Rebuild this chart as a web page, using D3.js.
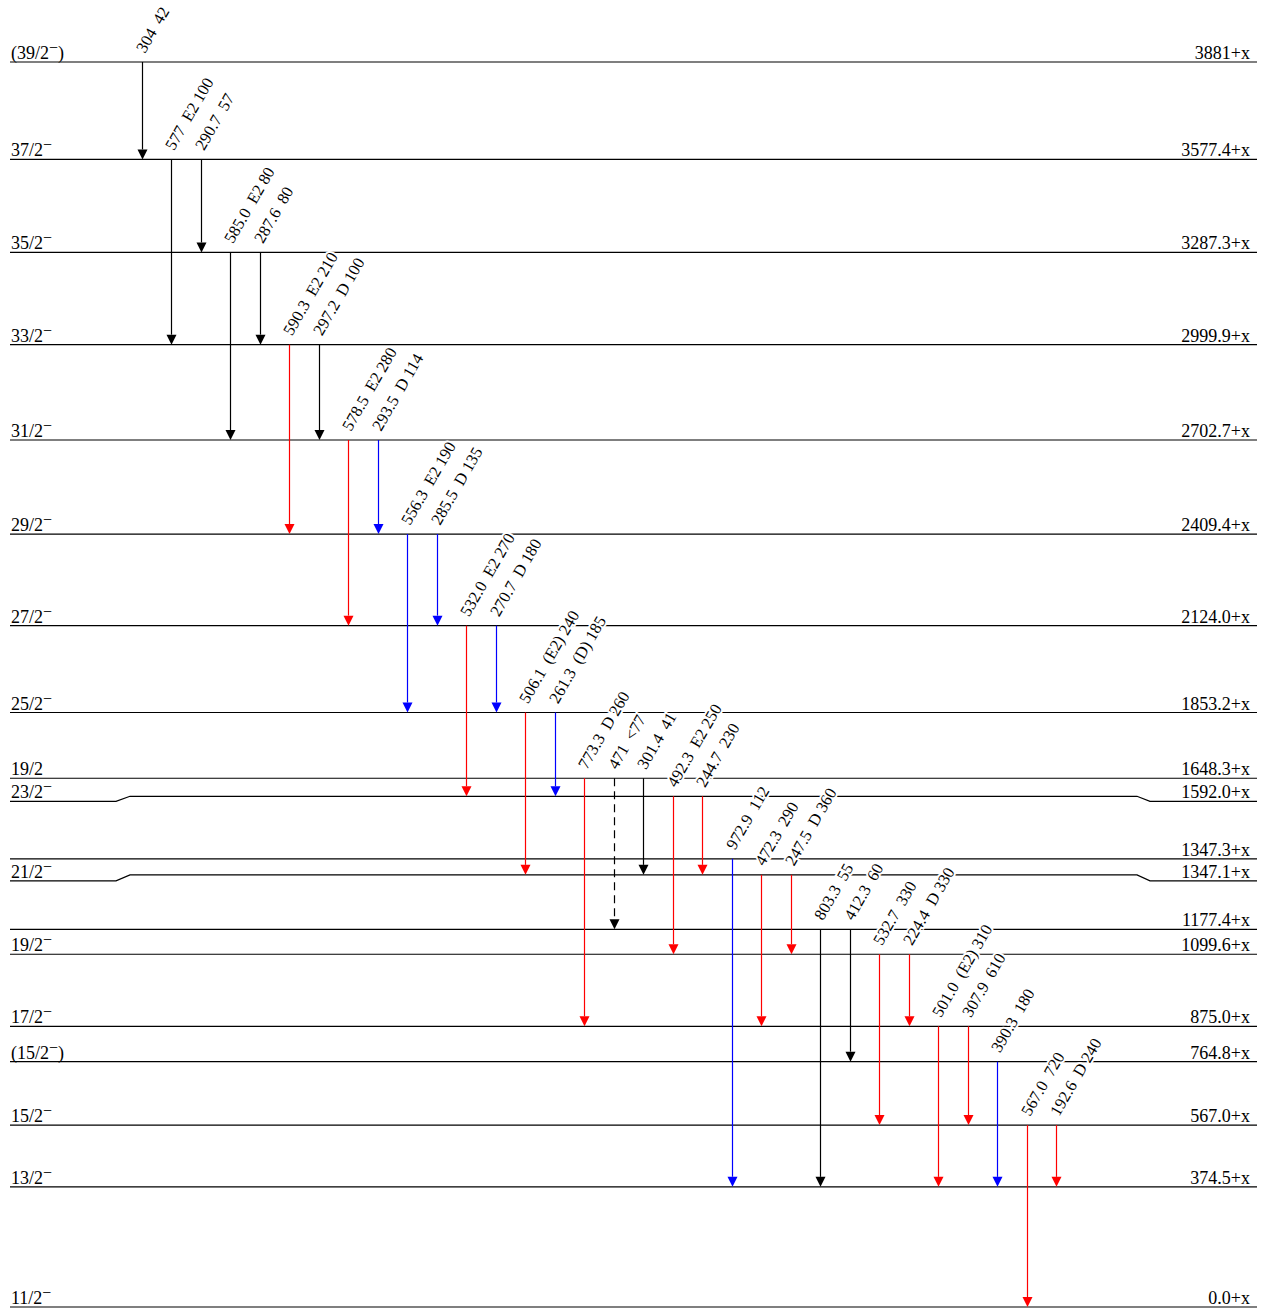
<!DOCTYPE html>
<html>
<head>
<meta charset="utf-8">
<script src="https://cdn.jsdelivr.net/npm/d3@7"></script>
<style>
  html, body { margin: 0; padding: 0; background: #fff; }
  svg { display: block; font-family: "Liberation Serif", "Times New Roman", serif; }
  .gamma { white-space: pre; }
</style>
</head>
<body>
<div id="chart"></div>
<script>
// level scheme: levels and gamma transitions

const levelEnergies = [0.0, 374.5, 567.0, 764.8, 875.0, 1099.6, 1177.4, 1347.1, 1347.3,
  1592.0, 1648.3, 1853.2, 2124.0, 2409.4, 2702.7, 2999.9, 3287.3, 3577.4, 3881];
const levelSpins = ['11/2', '13/2', '15/2', '(15/2', '17/2', '19/2', '', '21/2', '',
  '23/2', '19/2', '25/2', '27/2', '29/2', '31/2', '33/2', '35/2', '37/2', '(39/2'];
const levelParity = ['−', '−', '−', '−)', '−', '−', '', '−', '',
  '−', '', '−', '−', '−', '−', '−', '−', '−', '−)'];
const levelLabels = ['0.0+x', '374.5+x', '567.0+x', '764.8+x', '875.0+x', '1099.6+x', '1177.4+x',
  '1347.1+x', '1347.3+x', '1592.0+x', '1648.3+x', '1853.2+x', '2124.0+x', '2409.4+x',
  '2702.7+x', '2999.9+x', '3287.3+x', '3577.4+x', '3881+x'];

const gammaLabels = ['304  42', '577  E2 100', '290.7  57', '585.0  E2 80', '287.6  80',
  '590.3  E2 210', '297.2  D 100', '578.5  E2 280', '293.5  D 114', '556.3  E2 190', '285.5  D 135',
  '532.0  E2 270', '270.7  D 180', '506.1  (E2) 240', '261.3  (D) 185', '773.3  D 260', '471  <77',
  '301.4  41', '492.3  E2 250', '244.7  230', '972.9  112', '472.3  290', '247.5  D 360',
  '803.3  55', '412.3  60', '532.7  330', '224.4  D 330', '501.0  (E2) 310', '307.9  610',
  '390.3  180', '567.0  720', '192.6  D 240'];
const gammaFrom = [3881, 3577.4, 3577.4, 3287.3, 3287.3, 2999.9, 2999.9, 2702.7, 2702.7,
  2409.4, 2409.4, 2124.0, 2124.0, 1853.2, 1853.2, 1648.3, 1648.3, 1648.3, 1592.0, 1592.0,
  1347.3, 1347.1, 1347.1, 1177.4, 1177.4, 1099.6, 1099.6, 875.0, 875.0, 764.8, 567.0, 567.0];
const gammaTo = [3577.4, 2999.9, 3287.3, 2702.7, 2999.9, 2409.4, 2702.7, 2124.0, 2409.4,
  1853.2, 2124.0, 1592.0, 1853.2, 1347.1, 1592.0, 875.0, 1177.4, 1347.1, 1099.6, 1347.1,
  374.5, 875.0, 1099.6, 374.5, 764.8, 567.0, 875.0, 374.5, 567.0, 374.5, 0.0, 374.5];
const gammaBand = ['other', 'other', 'other', 'other', 'other', 'A', 'other', 'A', 'B',
  'B', 'B', 'A', 'B', 'A', 'B', 'A', 'other', 'other', 'A', 'A',
  'B', 'A', 'A', 'other', 'other', 'A', 'A', 'A', 'A', 'B', 'A', 'A'];
const gammaTentative = d3.range(gammaLabels.length).map(i => gammaLabels[i].startsWith('471'));

// display tweaks for the two close-lying 1347 levels and kinked lines
const levelShift = { 1347.3: -16 };
const edgeDrop = { 1592.0: 5, 1347.1: 6 };

const W = 1267, H = 1309;
const svg = d3.select('#chart').append('svg').attr('width', W).attr('height', H);

const y = d3.scaleLinear().domain([0, 3881]).range([1307, 62]);
const x = d3.scalePoint().domain(d3.range(gammaLabels.length)).range([142, 1056.5]);
const color = d3.scaleOrdinal().domain(['A', 'B', 'other']).range(['#ff0000', '#0000ff', '#000000']);

const levelY = e => y(e) + (levelShift[e] || 0);
const x0 = 10, x1 = 1257;

const levels = levelEnergies.map((e, i) => ({
  e, spin: levelSpins[i], par: levelParity[i], label: levelLabels[i],
  y: levelY(e), drop: edgeDrop[e] || 0
}));

const gLev = svg.append('g');
gLev.selectAll('path.level')
  .data(levels)
  .join('path')
  .attr('class', 'level')
  .attr('fill', 'none')
  .attr('stroke', '#000')
  .attr('stroke-width', 1.2)
  .attr('d', d => {
    if (!d.drop) return `M${x0},${d.y}H${x1}`;
    const ye = d.y + d.drop;
    return `M${x0},${ye}H116L130,${d.y}H1137L1150,${ye}H${x1}`;
  });

const spinText = gLev.selectAll('text.spin')
  .data(levels.filter(d => d.spin))
  .join('text')
  .attr('class', 'spin')
  .attr('x', 11)
  .attr('y', d => d.y + d.drop - 3)
  .attr('font-size', 18);
spinText.append('tspan').text(d => d.spin);
spinText.filter(d => d.par).each(function (d) {
  const t = d3.select(this);
  t.append('tspan').attr('dy', -6).attr('font-size', 16).text('−');
  if (d.par.length > 1) t.append('tspan').attr('dy', 6).text(')');
});

gLev.selectAll('text.energy')
  .data(levels)
  .join('text')
  .attr('class', 'energy')
  .attr('x', 1250)
  .attr('y', d => d.y + d.drop - 3)
  .attr('text-anchor', 'end')
  .attr('font-size', 18)
  .text(d => d.label);

const gammas = gammaLabels.map((lab, i) => ({
  lab, band: gammaBand[i], dashed: gammaTentative[i],
  x: Math.floor(x(i)) + 0.5, y1: levelY(gammaFrom[i]), y2: levelY(gammaTo[i])
}));

const head = 10;
const gG = svg.append('g');
gG.selectAll('line.gline')
  .data(gammas)
  .join('line')
  .attr('class', 'gline')
  .attr('x1', d => d.x).attr('x2', d => d.x)
  .attr('y1', d => d.y1).attr('y2', d => d.y2 - head)
  .attr('stroke', d => color(d.band))
  .attr('stroke-width', 1.2)
  .attr('stroke-dasharray', d => d.dashed ? '8,5' : null);

gG.selectAll('path.ghead')
  .data(gammas)
  .join('path')
  .attr('class', 'ghead')
  .attr('fill', d => color(d.band))
  .attr('d', d => `M${d.x - 5},${d.y2 - head}L${d.x + 5},${d.y2 - head}L${d.x},${d.y2}Z`);

gG.selectAll('text.gamma')
  .data(gammas)
  .join('text')
  .attr('class', 'gamma')
  .attr('transform', d => `translate(${d.x - 2.5},${d.y1 - 11}) rotate(-60)`)
  .attr('dy', '0.35em')
  .attr('font-size', 16.5)
  .attr('fill', '#000')
  .attr('stroke', '#fff')
  .attr('stroke-width', 4)
  .attr('paint-order', 'stroke')
  .text(d => d.lab);
</script>
</body>
</html>
